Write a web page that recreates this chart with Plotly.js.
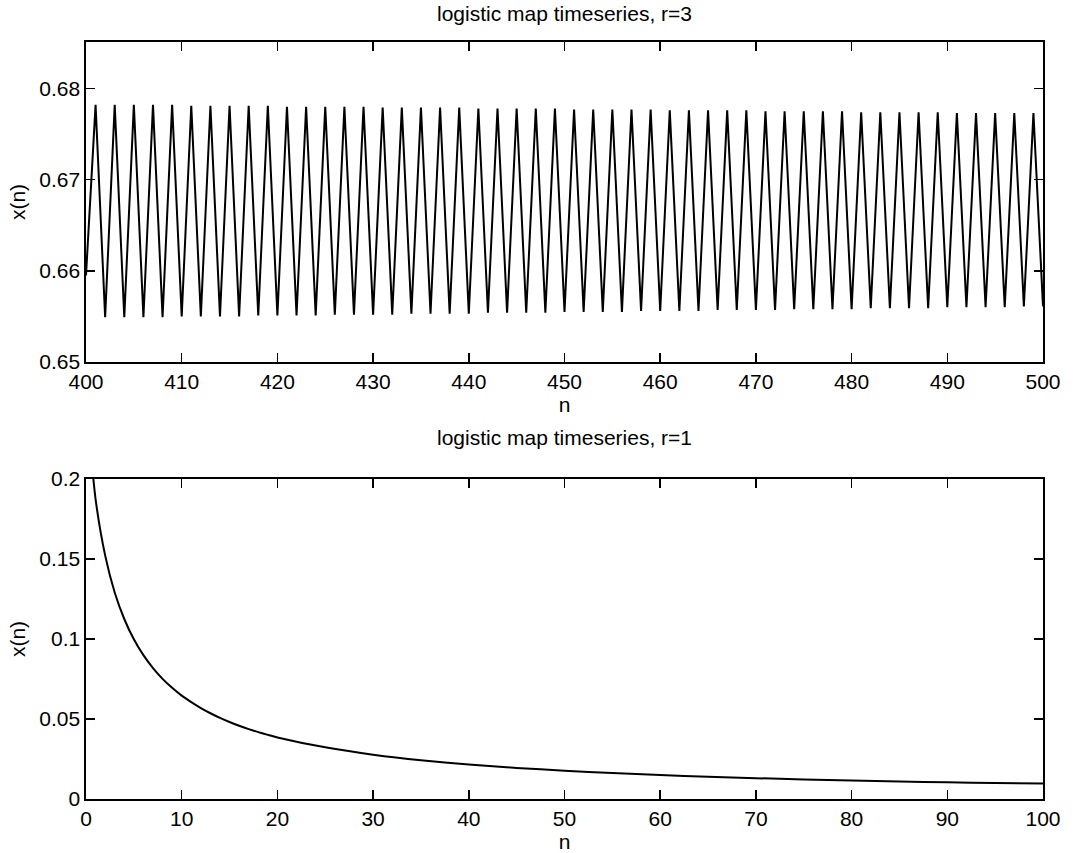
<!DOCTYPE html>
<html>
<head>
<meta charset="utf-8">
<script src="https://cdn.plot.ly/plotly-3.0.1.min.js"></script>
<style>html,body{margin:0;padding:0;background:#fff;}#chart{width:1074px;height:853px;}</style>
</head>
<body>
<div id="chart"></div>
<script>
// ---- top panel: r = 3, n = 400..500 ----
var r3Start = 400;
var r3FirstValue = 0.6595;            // x(400)
var r3Peaks = [                        // x(n) at n = 401, 403, ..., 499
  0.6782,0.6782,0.6782,0.6782,0.6782,0.6781,0.6781,0.6781,0.6781,0.6781,
  0.6780,0.6780,0.6780,0.6780,0.6780,0.6779,0.6779,0.6779,0.6779,0.6779,
  0.6778,0.6778,0.6778,0.6778,0.6778,0.6777,0.6777,0.6777,0.6777,0.6777,
  0.6776,0.6776,0.6776,0.6776,0.6776,0.6775,0.6775,0.6775,0.6775,0.6775,
  0.6774,0.6774,0.6774,0.6774,0.6774,0.6773,0.6773,0.6773,0.6773,0.6773
];
var r3Troughs = [                      // x(n) at n = 402, 404, ..., 500
  0.6549,0.6549,0.6549,0.6549,0.6550,0.6550,0.6550,0.6550,0.6551,0.6551,
  0.6551,0.6551,0.6552,0.6552,0.6552,0.6552,0.6553,0.6553,0.6553,0.6553,
  0.6554,0.6554,0.6554,0.6554,0.6555,0.6555,0.6555,0.6555,0.6556,0.6556,
  0.6556,0.6556,0.6557,0.6557,0.6557,0.6557,0.6558,0.6558,0.6558,0.6558,
  0.6559,0.6559,0.6559,0.6559,0.6560,0.6560,0.6560,0.6560,0.6561,0.6561
];
var r3Title = "logistic map timeseries, r=3";

// ---- bottom panel: r = 1, n = 0..100 ----
var r1N = [0,1,2,3,4,5,6,7,8,9,10,11,12,13,14,15,16,17,18,19,20,
           25,30,35,40,45,50,55,60,65,70,75,80,85,90,95,100];
var r1X = [0.25,0.1875,0.1523,0.1291,0.1125,0.0998,0.0899,0.0818,0.0751,0.0695,0.0646,
           0.0605,0.0568,0.0536,0.0507,0.0481,0.0458,0.0437,0.0418,0.0401,0.0385,
           0.0323,0.0277,0.0242,0.0216,0.0194,0.0177,0.0162,0.0150,0.0139,0.0130,
           0.0122,0.0115,0.0109,0.0104,0.0100,0.0097];
var r1Title = "logistic map timeseries, r=1";

var xTitle = "n";
var yTitle = "x(n)";

// assemble top series in time order
var r3N = [r3Start], r3X = [r3FirstValue];
for (var i = 0; i < r3Peaks.length; i++) {
  r3N.push(r3Start + 2*i + 1); r3X.push(r3Peaks[i]);
  r3N.push(r3Start + 2*i + 2); r3X.push(r3Troughs[i]);
}

var FONT = "Liberation Sans, Arial, Helvetica, sans-serif";
function axisBase(extra) {
  var a = {
    showline: true, linecolor: "#000", linewidth: 1.6, mirror: "ticks",
    ticks: "inside", ticklen: 9, tickwidth: 1.5, tickcolor: "#000",
    showgrid: false, zeroline: false,
    tickfont: {family: FONT, size: 21, color: "#000"},
    fixedrange: true
  };
  for (var k in extra) a[k] = extra[k];
  return a;
}

var traces = [
  {x: r3N, y: r3X, type: "scatter", mode: "lines",
   line: {color: "#000", width: 2}, xaxis: "x", yaxis: "y", hoverinfo: "skip"},
  {x: r1N, y: r1X, type: "scatter", mode: "lines",
   line: {color: "#000", width: 2, shape: "spline", smoothing: 0.6}, xaxis: "x2", yaxis: "y2", hoverinfo: "skip"}
];

var layout = {
  width: 1074, height: 853,
  margin: {l: 86, r: 31, t: 42, b: 54},
  paper_bgcolor: "#fff", plot_bgcolor: "#fff",
  showlegend: false,
  font: {family: FONT, color: "#000"},
  xaxis: axisBase({domain: [0, 1], anchor: "y", range: [400, 500], dtick: 10, tick0: 400,
    title: {text: xTitle, font: {family: FONT, size: 21}, standoff: 4}}),
  yaxis: axisBase({domain: [0.5773, 1], anchor: "x", range: [0.65, 0.6851], dtick: 0.01, tick0: 0.65,
    title: {text: yTitle, font: {family: FONT, size: 21}, standoff: 8}}),
  xaxis2: axisBase({domain: [0, 1], anchor: "y2", range: [0, 100], dtick: 10, tick0: 0,
    title: {text: xTitle, font: {family: FONT, size: 21}, standoff: 2}}),
  yaxis2: axisBase({domain: [0, 0.4227], anchor: "x2", range: [0, 0.2], dtick: 0.05, tick0: 0,
    title: {text: yTitle, font: {family: FONT, size: 21}, standoff: 8}}),
  annotations: [
    {text: r3Title, xref: "paper", yref: "paper", x: 0.5, y: 1.037, xanchor: "center", yanchor: "middle",
     showarrow: false, font: {family: FONT, size: 21, color: "#000"}},
    {text: r1Title, xref: "paper", yref: "paper", x: 0.5, y: 0.4782, xanchor: "center", yanchor: "middle",
     showarrow: false, font: {family: FONT, size: 21, color: "#000"}}
  ]
};

Plotly.newPlot("chart", traces, layout, {displayModeBar: false, staticPlot: true});
</script>
</body>
</html>
